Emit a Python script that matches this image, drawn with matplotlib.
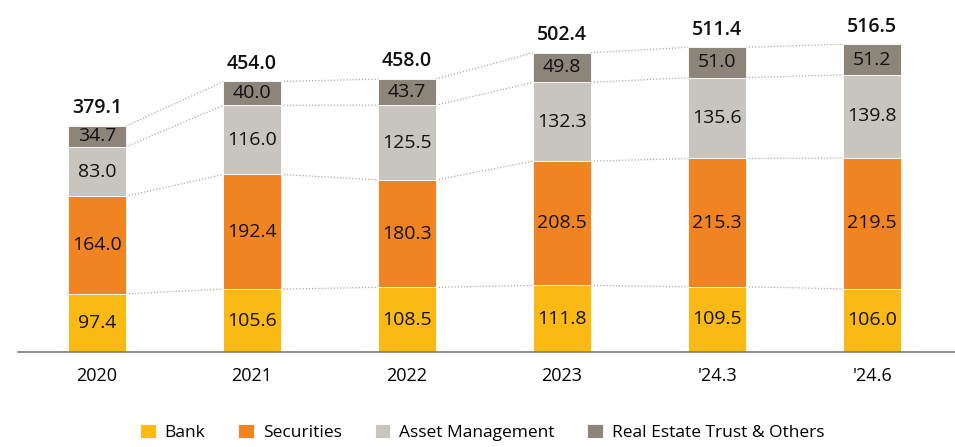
import matplotlib.pyplot as plt
import numpy as np

plt.rcParams['font.family'] = ['Open Sans', 'DejaVu Sans']

# data
years = ["2020", "2021", "2022", "2023", "'24.3", "'24.6"]
bank = [97.4, 105.6, 108.5, 111.8, 109.5, 106.0]
securities = [164.0, 192.4, 180.3, 208.5, 215.3, 219.5]
asset_mgmt = [83.0, 116.0, 125.5, 132.3, 135.6, 139.8]
real_estate = [34.7, 40.0, 43.7, 49.8, 51.0, 51.2]
totals = [379.1, 454.0, 458.0, 502.4, 511.4, 516.5]

names = ["Bank", "Securities", "Asset Management", "Real Estate Trust & Others"]
colors = ["#FBB913", "#F08423", "#C8C4BF", "#8D847A"]
series = [bank, securities, asset_mgmt, real_estate]

fig = plt.figure(figsize=(9.55, 4.47), dpi=100)
ax = fig.add_axes([18 / 955, 95 / 447, 937 / 955, 342 / 447])

x = np.arange(len(years))
width = 0.37
bottom = np.zeros(len(years))
for vals, name, col in zip(series, names, colors):
    vals = np.array(vals)
    ax.bar(x, vals, width, bottom=bottom, color=col, label=name,
           edgecolor="white", linewidth=0.6)
    for xi, b, v in zip(x, bottom, vals):
        ax.text(xi, b + v / 2, f"{v:.1f}", ha="center", va="center",
                fontsize=14, color="#111111")
    bottom = bottom + vals
    # dotted connectors at top of each level
    for i in range(len(years) - 1):
        ax.plot([x[i] + width / 2, x[i + 1] - width / 2],
                [bottom[i], bottom[i + 1]], linestyle=(0, (1, 1.5)),
                color="#B0A9A0", linewidth=0.9, zorder=0)

for xi, t in zip(x, totals):
    ax.text(xi, t + 13, f"{t:.1f}", ha="center", va="bottom",
            fontsize=14, color="#111111", fontweight="semibold")

ax.set_xlim(-0.51, 5.535)
ax.set_ylim(0, 574)
ax.set_xticks(x)
ax.set_xticklabels(years, fontsize=13)
ax.tick_params(axis="x", length=0, pad=11)
ax.set_yticks([])
for s in ["top", "right", "left"]:
    ax.spines[s].set_visible(False)
ax.spines["bottom"].set_color("#7F7A73")
ax.spines["bottom"].set_linewidth(1.2)

fig.legend(loc="lower center", ncol=4, frameon=False, fontsize=12.5,
           bbox_to_anchor=(0.505, -0.022), handlelength=0.9, handleheight=0.9,
           columnspacing=1.9, handletextpad=0.5)

fig.savefig("out.png", dpi=100)
